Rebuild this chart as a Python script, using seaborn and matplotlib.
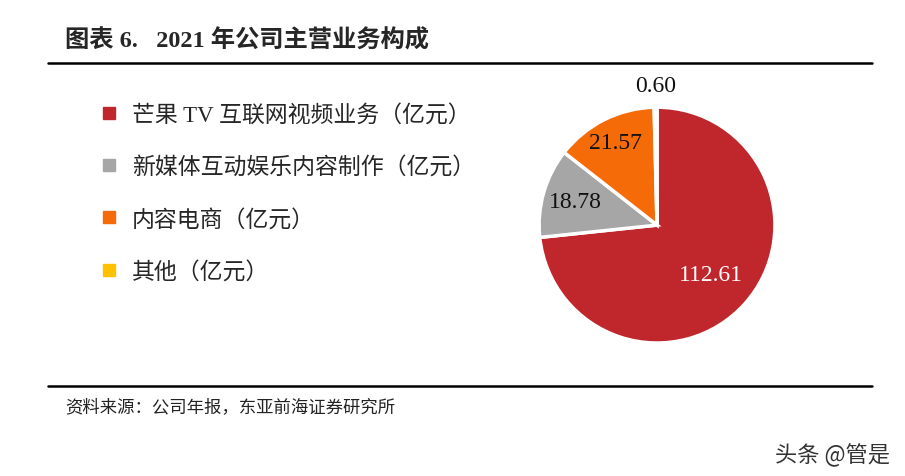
import numpy as np
import matplotlib
matplotlib.use("Agg")
import matplotlib.pyplot as plt
from matplotlib.lines import Line2D
import seaborn as sns

sns.set_theme(style="white")
plt.rcParams["font.family"] = ["Liberation Serif", "Noto Sans CJK SC", "DejaVu Sans"]

# ---------------------------------------------------------
# DATA
# ---------------------------------------------------------
legend_labels = ["芒果 TV 互联网视频业务（亿元）", "新媒体互动娱乐内容制作（亿元）",
                 "内容电商（亿元）", "其他（亿元）"]
values = [112.61, 18.78, 21.57, 0.60]
value_labels = ["112.61", "18.78", "21.57", "0.60"]

colors = ["#C0272D", "#A6A6A6", "#F46B08", "#FFC000"]
label_dist = [0.62, 0.72, 0.78, 1.18]
label_color = ["white", "#111111", "#111111", "#111111"]

fig = plt.figure(figsize=(9.05, 4.77), dpi=100)

# pie
ax = fig.add_axes([0.563, 0.217, 0.326, 0.618])
wedges, _ = ax.pie(values, colors=colors, startangle=90, counterclock=False,
                   radius=1.0, wedgeprops=dict(edgecolor="white", linewidth=2.5))
ax.set_aspect("equal")
for w, txt, d, c in zip(wedges, value_labels, label_dist, label_color):
    mid = np.deg2rad((w.theta1 + w.theta2) / 2)
    ax.text(d * np.cos(mid), d * np.sin(mid), txt, ha="center", va="center",
            fontsize=17, color=c, family=["Liberation Serif"])

# legend
handles = [Line2D([0], [0], marker="s", linestyle="", markersize=8.5,
                  markerfacecolor=col, markeredgecolor=col) for col in colors]
fig.legend(handles, legend_labels, loc="upper left", bbox_to_anchor=(0.100, 0.800),
           frameon=False, labelspacing=1.33, handlelength=0.8,
           handletextpad=0.6, borderaxespad=0,
           prop={"family": ["Liberation Serif", "Noto Sans CJK SC"], "size": 16.5})

# title and rules
fig.text(0.072, 0.914, "图表 6.   2021 年公司主营业务构成", fontsize=17.5,
         fontweight="bold", va="center", ha="left",
         family=["Liberation Serif", "Noto Sans CJK SC"])
fig.add_artist(Line2D([0.053, 0.963], [0.866, 0.866], color="black", linewidth=1.8))
fig.add_artist(Line2D([0.053, 0.963], [0.189, 0.189], color="black", linewidth=1.8))

fig.text(0.072, 0.145, "资料来源：公司年报，东亚前海证券研究所", fontsize=12.5,
         va="center", ha="left", color="#222222",
         family=["Liberation Serif", "Noto Sans CJK SC"])
fig.text(0.983, 0.046, "头条 @管是", fontsize=16, va="center", ha="right",
         color="#333333", family=["Noto Sans CJK SC", "DejaVu Sans"])

fig.savefig("out.png", dpi=100)
